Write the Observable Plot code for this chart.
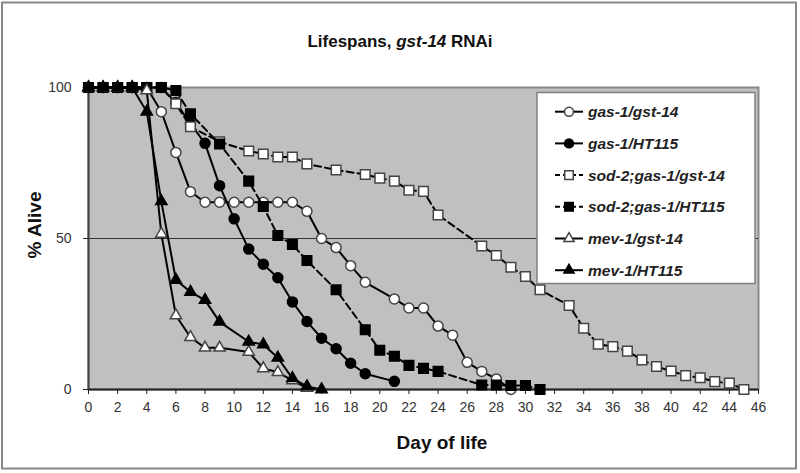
<!DOCTYPE html>
<html>
<head>
<meta charset="utf-8">
<script src="https://cdn.jsdelivr.net/npm/d3@7"></script>
<script src="https://cdn.jsdelivr.net/npm/@observablehq/plot@0.6"></script>
<style>
  html, body { margin: 0; padding: 0; background: #fff; }
  #chart { width: 800px; height: 473px; }
</style>
</head>
<body>
<div id="chart"></div>
<script>
// ---- data ----
const seriesNames = ["gas-1/gst-14", "gas-1/HT115", "sod-2;gas-1/gst-14", "sod-2;gas-1/HT115", "mev-1/gst-14", "mev-1/HT115"];

const gas1Gst14Days  = [0,1,2,3,4,5,6,7,8,9,10,11,12,13,14,15,16,17,18,19,21,22,23,24,25,26,27,28,29];
const gas1Gst14Alive = [100,100,100,100,100,92,78.5,65.5,62,62,62,62,62,62,62,59,50,47,41,35.5,30,27,27,21,18,9,6,3.5,0];

const gas1HT115Days  = [0,1,2,3,4,5,6,7,8,9,10,11,12,13,14,15,16,17,18,19,21];
const gas1HT115Alive = [100,100,100,100,100,100,95,88,81.5,67.5,56.5,46.5,41.5,37,29,22.5,17,13.5,8.7,5.2,2.7];

const sod2Gst14Days  = [0,1,2,3,4,5,6,7,9,11,12,13,14,15,17,19,20,21,22,23,24,27,28,29,30,31,33,34,35,36,37,38,39,40,41,42,43,44,45];
const sod2Gst14Alive = [100,100,100,100,100,100,94.6,87,82,79,78,77,77,74.7,72.7,71.2,70,69,66,65.6,57.8,47.5,44.4,40.5,37.4,33,27.8,20.3,15,14.2,12.7,9.8,7.6,6.1,4.6,3.9,2.6,2.1,0];

const sod2HT115Days  = [0,1,2,3,4,5,6,7,9,11,12,13,14,15,17,19,20,21,22,23,24,27,28,29,30,31];
const sod2HT115Alive = [100,100,100,100,100,100,99,91.3,81.3,69,60.6,51,48,42.7,33,19.8,13,11,8,7,6,1.5,1.5,1.3,1.3,0];

const mev1Gst14Days  = [0,1,2,3,4,5,6,7,8,9,11,12,13,14,15];
const mev1Gst14Alive = [100,100,100,100,99,51.5,24.5,17.3,13.8,13.8,12.4,7,5.7,3,0.5];

const mev1HT115Days  = [0,1,2,3,4,5,6,7,8,9,11,12,13,14,15,16];
const mev1HT115Alive = [100,100,100,100,92,62.3,36.3,32.3,29.6,22.4,15.8,14.9,10.5,3.7,1,0];

const xTicks = d3.range(0, 47, 2);
const yTicks = [0, 50, 100];

// ---- styles per series ----
const styles = [
  {days: gas1Gst14Days, alive: gas1Gst14Alive, symbol: "circle",   fill: "white", stroke: "#444", dash: null,  r: 5},
  {days: gas1HT115Days, alive: gas1HT115Alive, symbol: "circle",   fill: "black", stroke: "black", dash: null, r: 5},
  {days: sod2Gst14Days, alive: sod2Gst14Alive, symbol: "square",   fill: "white", stroke: "#444", dash: "7,4", r: 5.4},
  {days: sod2HT115Days, alive: sod2HT115Alive, symbol: "square",   fill: "black", stroke: "black", dash: "7,4", r: 5.4},
  {days: mev1Gst14Days, alive: mev1Gst14Alive, symbol: "triangle", fill: "white", stroke: "#444", dash: null,  r: 4.2},
  {days: mev1HT115Days, alive: mev1HT115Alive, symbol: "triangle", fill: "black", stroke: "black", dash: null, r: 4.2}
];

const seriesMarks = [];
styles.forEach((s, i) => {
  const data = s.days.map((d, j) => ({day: d, alive: s.alive[j], series: seriesNames[i]}));
  seriesMarks.push(Plot.line(data, {x: "day", y: "alive", stroke: "black", strokeWidth: 2, strokeDasharray: s.dash}));
  seriesMarks.push(Plot.dot(data, {x: "day", y: "alive", symbol: s.symbol, r: s.r, fill: s.fill, stroke: s.stroke, strokeWidth: 1.5}));
});

const svg = Plot.plot({
  width: 800,
  height: 473,
  marginLeft: 88,
  marginRight: 42,
  marginTop: 87,
  marginBottom: 84,
  style: {fontFamily: "'Liberation Sans', Arial, sans-serif", fontSize: "14px", color: "#333", background: "white"},
  x: {domain: [0, 46]},
  y: {domain: [0, 100]},
  marks: [
    Plot.frame({fill: "#c0c0c0", stroke: "#8a8a8a", strokeWidth: 2}),
    Plot.ruleY([50], {stroke: "#333", strokeWidth: 1}),
    Plot.ruleX([0], {stroke: "#444", strokeWidth: 2}),
    Plot.ruleY([0], {stroke: "#222", strokeWidth: 2}),
    Plot.axisX({ticks: xTicks, tickSize: 5, tickPadding: 8, fontSize: 14, label: null, stroke: "#222"}),
    Plot.axisY({ticks: yTicks, tickSize: 5, tickPadding: 12, fontSize: 14, label: null, stroke: "#222"}),
    ...seriesMarks
  ]
});

const root = d3.select(svg);
const font = "'Liberation Sans', Arial, sans-serif";

// outer border
root.append("rect").attr("x", 2).attr("y", 2.5).attr("width", 794).attr("height", 466)
  .attr("fill", "none").attr("stroke", "#888").attr("stroke-width", 2);

// title
const title = root.append("text").attr("x", 400).attr("y", 47).attr("text-anchor", "middle")
  .attr("font-family", font).attr("font-size", 17).attr("font-weight", "bold").attr("fill", "#111");
title.append("tspan").text("Lifespans, ");
title.append("tspan").attr("font-style", "italic").text("gst-14");
title.append("tspan").text(" RNAi");

// axis labels
root.append("text").attr("x", 442).attr("y", 449).attr("text-anchor", "middle")
  .attr("font-family", font).attr("font-size", 19).attr("font-weight", "bold").attr("fill", "#111")
  .text("Day of life");
root.append("text").attr("transform", "translate(41,225) rotate(-90)").attr("text-anchor", "middle")
  .attr("font-family", font).attr("font-size", 19).attr("font-weight", "bold").attr("fill", "#111")
  .text("% Alive");

// legend
const lg = root.append("g");
lg.append("rect").attr("x", 537).attr("y", 92.5).attr("width", 218).attr("height", 191)
  .attr("fill", "white").attr("stroke", "#808080").attr("stroke-width", 1.5);
styles.forEach((s, i) => {
  const cy = 111.7 + i * 31.7;
  lg.append("line").attr("x1", 555).attr("x2", 583).attr("y1", cy).attr("y2", cy)
    .attr("stroke", "black").attr("stroke-width", 2).attr("stroke-dasharray", s.dash ? "5,3" : null);
  const sym = s.symbol === "circle" ? d3.symbolCircle : s.symbol === "square" ? d3.symbolSquare : d3.symbolTriangle;
  lg.append("path").attr("d", d3.symbol(sym, Math.PI * s.r * s.r * 0.8)())
    .attr("transform", `translate(569,${cy})`)
    .attr("fill", s.fill).attr("stroke", s.stroke).attr("stroke-width", 1.5);
  lg.append("text").attr("x", 588).attr("y", cy + 5.5).attr("text-anchor", "start")
    .attr("font-family", font).attr("font-size", 15.5).attr("font-weight", "bold").attr("font-style", "italic")
    .attr("fill", "#222").text(seriesNames[i]);
});

document.getElementById("chart").appendChild(svg);
</script>
</body>
</html>
